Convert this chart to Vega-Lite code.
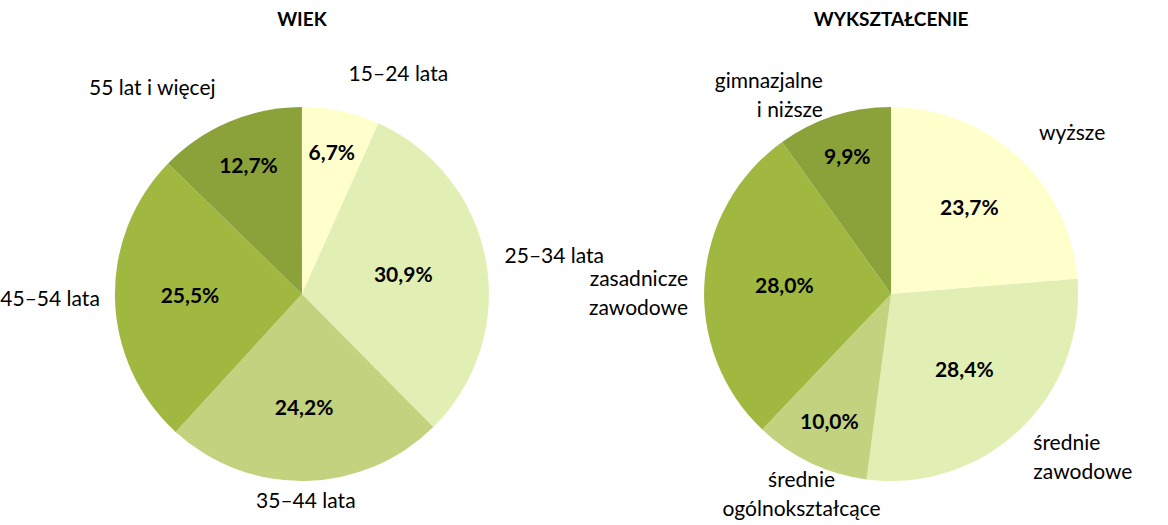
{
  "$schema": "https://vega.github.io/schema/vega-lite/v6.json",
  "width": 1143,
  "height": 460,
  "autosize": {"type": "none"},
  "padding": {"left": 25, "top": 64, "right": 0, "bottom": 1},
  "background": "white",
  "config": {
    "view": {"stroke": null},
    "font": "Lato",
    "locale": {"number": {"decimal": ",", "thousands": " ", "grouping": [3], "currency": ["", "%"]}}
  },
  "datasets": {
    "main": [
      {"panel": "WIEK", "k": 1, "label": "15–24 lata", "value": 6.7},
      {"panel": "WIEK", "k": 2, "label": "25–34 lata", "value": 30.9},
      {"panel": "WIEK", "k": 3, "label": "35–44 lata", "value": 24.2},
      {"panel": "WIEK", "k": 4, "label": "45–54 lata", "value": 25.5},
      {"panel": "WIEK", "k": 5, "label": "55 lat i więcej", "value": 12.7},
      {"panel": "WYKSZTAŁCENIE", "k": 1, "label": "wyższe", "value": 23.7},
      {"panel": "WYKSZTAŁCENIE", "k": 2, "label": "średnie\nzawodowe", "value": 28.4},
      {"panel": "WYKSZTAŁCENIE", "k": 3, "label": "średnie\nogólnokształcące", "value": 10.0},
      {"panel": "WYKSZTAŁCENIE", "k": 4, "label": "zasadnicze\nzawodowe", "value": 28.0},
      {"panel": "WYKSZTAŁCENIE", "k": 5, "label": "gimnazjalne\ni niższe", "value": 9.9}
    ],
    "titles": [
      {"panel": "WIEK"},
      {"panel": "WYKSZTAŁCENIE"}
    ]
  },
  "encoding": {
    "x": {"field": "panel", "type": "nominal", "axis": null, "scale": {"type": "point", "padding": 0.47, "domain": ["WIEK", "WYKSZTAŁCENIE"]}}
  },
  "layer": [
    {
      "data": {"name": "main"},
      "transform": [{"filter": "datum.panel === 'WIEK'"}],
      "encoding": {
        "theta": {"field": "value", "type": "quantitative", "stack": true, "scale": {"domain": [0, 100]}},
        "order": {"field": "k", "type": "quantitative", "sort": "ascending"}
      },
      "layer": [
        {
          "mark": {"type": "arc", "outerRadius": 187},
          "encoding": {
            "color": {"field": "k", "type": "ordinal", "legend": null, "scale": {"domain": [1, 2, 3, 4, 5], "range": ["#FFFFCC", "#E2EFB4", "#C2D27E", "#A0B840", "#8BA23A"]}}
          }
        },
        {
          "mark": {"type": "text", "fontWeight": "bold", "fontSize": 21, "color": "#000000", "baseline": "middle"},
          "encoding": {
            "radius": {"field": "value", "type": "quantitative", "scale": {"type": "linear", "domain": [10, 30], "range": [143, 103], "clamp": true, "zero": false}},
            "text": {"field": "value", "type": "quantitative", "format": "$.1f"}
          }
        },
        {
          "mark": {"type": "text", "fontSize": 21, "lineBreak": "\n", "lineHeight": 29, "baseline": "middle", "color": "#000000",
            "radius": {"expr": "202 + (cos(PI * (datum.value_start + datum.value_end) / 100) > 0 ? 22 : 6) * abs(cos(PI * (datum.value_start + datum.value_end) / 100))"},
            "align": {"expr": "((datum.value_start + datum.value_end) / 2 < 3 || (datum.value_start + datum.value_end) / 2 > 97 || abs((datum.value_start + datum.value_end) / 2 - 50) < 8) ? 'center' : ((datum.value_start + datum.value_end) / 2 < 50 ? 'left' : 'right')"}},
          "encoding": {
            "text": {"field": "label", "type": "nominal"}
          }
        }
      ]
    },
    {
      "data": {"name": "main"},
      "transform": [{"filter": "datum.panel === 'WYKSZTAŁCENIE'"}],
      "encoding": {
        "theta": {"field": "value", "type": "quantitative", "stack": true, "scale": {"domain": [0, 100]}},
        "order": {"field": "k", "type": "quantitative", "sort": "ascending"}
      },
      "layer": [
        {
          "mark": {"type": "arc", "outerRadius": 187},
          "encoding": {
            "color": {"field": "k", "type": "ordinal", "legend": null, "scale": {"domain": [1, 2, 3, 4, 5], "range": ["#FFFFCC", "#E2EFB4", "#C2D27E", "#A0B840", "#8BA23A"]}}
          }
        },
        {
          "mark": {"type": "text", "fontWeight": "bold", "fontSize": 21, "color": "#000000", "baseline": "middle"},
          "encoding": {
            "radius": {"field": "value", "type": "quantitative", "scale": {"type": "linear", "domain": [10, 30], "range": [143, 103], "clamp": true, "zero": false}},
            "text": {"field": "value", "type": "quantitative", "format": "$.1f"}
          }
        },
        {
          "mark": {"type": "text", "fontSize": 21, "lineBreak": "\n", "lineHeight": 29, "baseline": "middle", "color": "#000000",
            "radius": {"expr": "202 + (cos(PI * (datum.value_start + datum.value_end) / 100) > 0 ? 22 : 6) * abs(cos(PI * (datum.value_start + datum.value_end) / 100))"},
            "align": {"expr": "((datum.value_start + datum.value_end) / 2 < 3 || (datum.value_start + datum.value_end) / 2 > 97 || abs((datum.value_start + datum.value_end) / 2 - 50) < 8) ? 'center' : ((datum.value_start + datum.value_end) / 2 < 50 ? 'left' : 'right')"}},
          "encoding": {
            "text": {"field": "label", "type": "nominal"}
          }
        }
      ]
    },
    {
      "data": {"name": "titles"},
      "mark": {"type": "text", "fontWeight": "bold", "fontSize": 19, "dy": -274, "baseline": "middle", "color": "#000000"},
      "encoding": {
        "text": {"field": "panel", "type": "nominal"}
      }
    }
  ]
}
